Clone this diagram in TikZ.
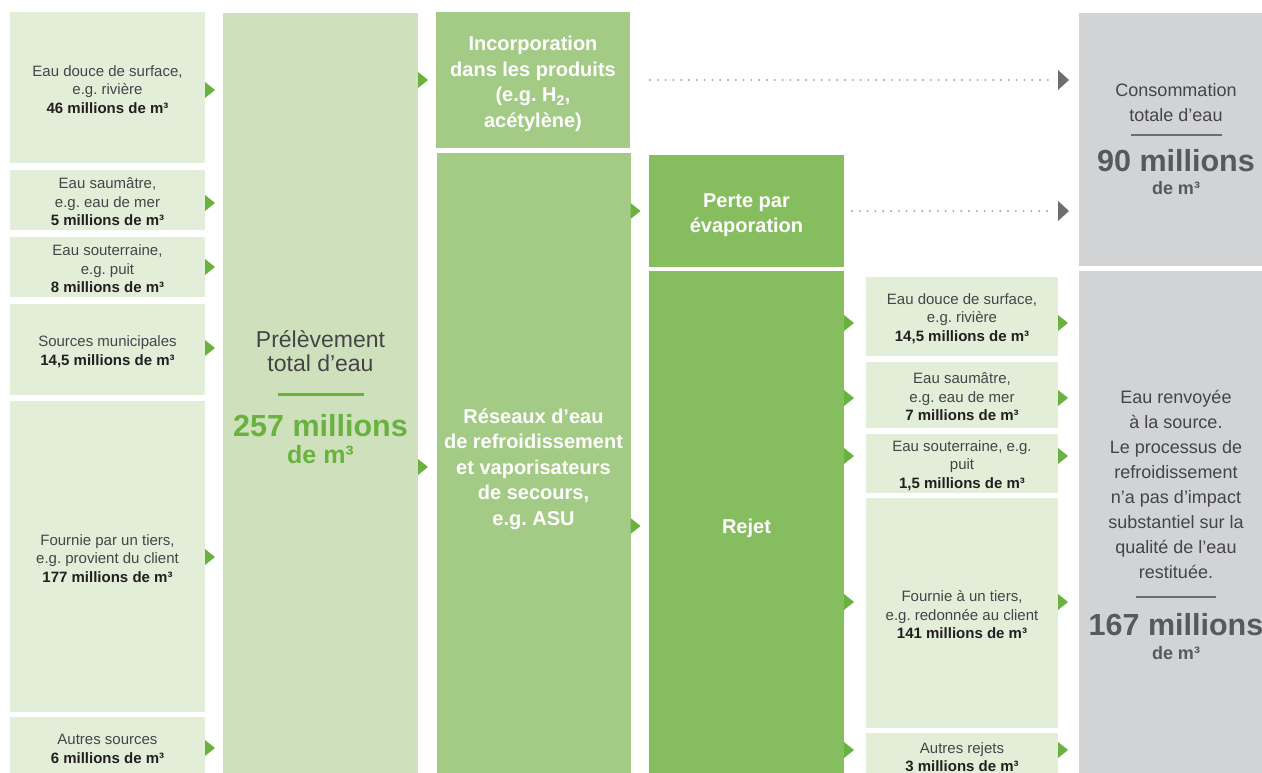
\documentclass[tikz,border=0pt]{standalone}
\usepackage{fontspec}
\setmainfont{Liberation Sans}
\usetikzlibrary{calc}
\definecolor{srcfill}{HTML}{E3EED9}
\definecolor{totfill}{HTML}{CEE1BC}
\definecolor{midgreen}{HTML}{A3CB85}
\definecolor{darkgreen}{HTML}{86BD5F}
\definecolor{arrowgreen}{HTML}{6AB23F}
\definecolor{grayfill}{HTML}{D1D3D4}
\definecolor{tipgray}{HTML}{6D6E71}
\definecolor{dotgray}{HTML}{A0A2A5}
\definecolor{bignum}{HTML}{58595B}
\definecolor{txtlight}{HTML}{454547}
\definecolor{txtbold}{HTML}{231F20}
\newcommand{\bnum}[1]{{\bfseries\color{txtbold}#1}}
\frenchspacing
\begin{document}
\begin{tikzpicture}[x=1pt,y=-1pt,
  box/.style={inner sep=0pt, outer sep=0pt},
  srcbox/.style={box, fill=srcfill, minimum width=195pt},
  disbox/.style={box, fill=srcfill, minimum width=192pt},
  lighttext/.style={inner sep=0pt, align=center, text=txtlight, font=\fontsize{15}{18.5}\selectfont, yshift=-2pt},
  midbox/.style={box, fill=midgreen, minimum width=194pt},
  darkbox/.style={box, fill=darkgreen, minimum width=195pt},
  whitetext/.style={inner sep=0pt, align=center, text=white, font=\bfseries\fontsize{20}{25.5}\selectfont, yshift=-4pt},
  graybox/.style={box, fill=grayfill, minimum width=193pt},
  lbl/.style={anchor=base, inner sep=0pt},
  lighttxt/.style={lbl, text=txtlight, font=\fontsize{18}{22}\selectfont},
  dotline/.style={draw=dotgray, line width=2.1pt, line cap=round, dash pattern=on 0pt off 7.8pt},
  gtip/.pic={\fill[arrowgreen] (0pt,8pt) -- (10pt,0pt) -- (0pt,-8pt) -- cycle;},
  dtip/.pic={\fill[tipgray] (0pt,10pt) -- (11pt,0pt) -- (0pt,-10pt) -- cycle;}
]
\useasboundingbox (0,0) rectangle (1262,773);

% source boxes
\node[srcbox, minimum height=151pt] (s1) at (107.5,87.5) {};
\node[lighttext] (s1t) at (s1.center) {Eau douce de surface,\\ e.g. rivière\\ \bnum{46 millions de m³}};
\node[srcbox, minimum height=60pt] (s2) at (107.5,200) {};
\node[lighttext] (s2t) at (s2.center) {Eau saumâtre,\\ e.g. eau de mer\\ \bnum{5 millions de m³}};
\node[srcbox, minimum height=60pt] (s3) at (107.5,267) {};
\node[lighttext] (s3t) at (s3.center) {Eau souterraine,\\ e.g. puit\\ \bnum{8 millions de m³}};
\node[srcbox, minimum height=91pt] (s4) at (107.5,349.5) {};
\node[lighttext] (s4t) at (s4.center) {Sources municipales\\ \bnum{14,5 millions de m³}};
\node[srcbox, minimum height=311pt] (s5) at (107.5,556.5) {};
\node[lighttext] (s5t) at (s5.center) {Fournie par un tiers,\\ e.g. provient du client\\ \bnum{177 millions de m³}};
\node[srcbox, minimum height=60pt] (s6) at (107.5,747) {};
\node[lighttext] (s6t) at (s6.center) {Autres sources\\ \bnum{6 millions de m³}};

% total withdrawal
\node[box, fill=totfill, minimum width=195pt, minimum height=764pt] (tot) at (320.5,395) {};
\node[lbl, text=txtlight, font=\fontsize{23}{25}\selectfont] (totA) at (320.5,347) {Prélèvement};
\node[lbl, text=txtlight, font=\fontsize{23}{25}\selectfont] (totB) at (320.5,371) {total d’eau};
\draw[arrowgreen, line width=2.5pt] (278,394.5) -- (364,394.5);
\node[lbl, text=arrowgreen, font=\bfseries\fontsize{30.5}{32}\selectfont] (totC) at (320.5,436) {257 millions};
\node[lbl, text=arrowgreen, font=\bfseries\fontsize{25}{27}\selectfont] (totD) at (320.5,463) {de m³};

% middle boxes
\node[midbox, minimum height=136pt] (inc) at (533,80) {};
\node[whitetext] (inct) at (inc.center) {Incorporation\\ dans les produits\\ (e.g. H\textsubscript{2},\\ acétylène)};
\node[midbox, minimum height=624pt] (res) at (533.5,465) {};
\node[whitetext] (rest) at (res.center) {Réseaux d’eau\\ de refroidissement\\ et vaporisateurs\\ de secours,\\ e.g. ASU};
\node[darkbox, minimum height=112pt] (per) at (746.5,211) {};
\node[whitetext] (pert) at (per.center) {Perte par\\ évaporation};
\node[darkbox, minimum height=506pt] (rej) at (746.5,524) {};
\node[whitetext] (rejt) at (rej.center) {Rejet};

% discharge boxes
\node[disbox, minimum height=79pt] (d1) at (962,316.5) {};
\node[lighttext] (d1t) at (d1.center) {Eau douce de surface,\\ e.g. rivière\\ \bnum{14,5 millions de m³}};
\node[disbox, minimum height=66pt] (d2) at (962,395) {};
\node[lighttext] (d2t) at (d2.center) {Eau saumâtre,\\ e.g. eau de mer\\ \bnum{7 millions de m³}};
\node[disbox, minimum height=59pt] (d3) at (962,463.5) {};
\node[lighttext] (d3t) at (d3.center) {Eau souterraine, e.g.\\ puit\\ \bnum{1,5 millions de m³}};
\node[disbox, minimum height=230pt] (d4) at (962,613) {};
\node[lighttext] (d4t) at (d4.center) {Fournie à un tiers,\\ e.g. redonnée au client\\ \bnum{141 millions de m³}};
\node[disbox, minimum height=44pt] (d5) at (962,755) {};
\node[lighttext] (d5t) at (d5.center) {Autres rejets\\ \bnum{3 millions de m³}};

% gray result boxes
\node[graybox, minimum height=253pt] (cons) at (1175.5,139.5) {};
\node[lighttxt] (consA) at (1176,96.7) {Consommation};
\node[lighttxt] (consB) at (1176,121.7) {totale d’eau};
\draw[tipgray, line width=2.3pt] (1131,135) -- (1222,135);
\node[lbl, text=bignum, font=\bfseries\fontsize{30.5}{32}\selectfont] (consC) at (1176,171.7) {90 millions};
\node[lbl, text=bignum, font=\bfseries\fontsize{18}{20}\selectfont] (consD) at (1176,195) {de m³};

\node[graybox, minimum height=506pt] (ret) at (1175.5,524) {};
\foreach \t [count=\i from 0] in {Eau renvoyée, à la source., Le processus de, refroidissement, n’a pas d’impact, substantiel sur la, qualité de l’eau, restituée.}
  \node[lighttxt] (ret\i) at (1176,403+25*\i) {\t};
\draw[tipgray, line width=2.3pt] (1136,597) -- (1216,597);
\node[lbl, text=bignum, font=\bfseries\fontsize{30.5}{32}\selectfont] (retC) at (1176,635) {167 millions};
\node[lbl, text=bignum, font=\bfseries\fontsize{18}{20}\selectfont] (retD) at (1176,659) {de m³};

% green arrow tips
\pic at (s1.east |- 0,90) {gtip};
\pic at (s2.east |- 0,203) {gtip};
\pic at (s3.east |- 0,267) {gtip};
\pic at (s4.east |- 0,348) {gtip};
\pic at (s5.east |- 0,557) {gtip};
\pic at (s6.east |- 0,748) {gtip};
\pic at (tot.east |- inc.east) {gtip};
\pic at (tot.east |- 0,467) {gtip};
\pic at (res.east |- per.east) {gtip};
\pic at (res.east |- 0,526) {gtip};
\foreach \n/\yy in {d1/323, d2/398, d3/456, d4/602, d5/750} {
  \pic at (rej.east |- 0,\yy) {gtip};
  \pic at (\n.east |- 0,\yy) {gtip};
}

% dotted connectors to consumption
\draw[dotline] ([xshift=20pt]inc.east) -- ([xshift=-31pt]cons.west |- inc.east);
\pic at ([xshift=-21pt]cons.west |- inc.east) {dtip};
\draw[dotline] ([xshift=8pt]per.east) -- ([xshift=-31pt]cons.west |- per.east);
\pic at ([xshift=-21pt]cons.west |- per.east) {dtip};
\end{tikzpicture}
\end{document}
